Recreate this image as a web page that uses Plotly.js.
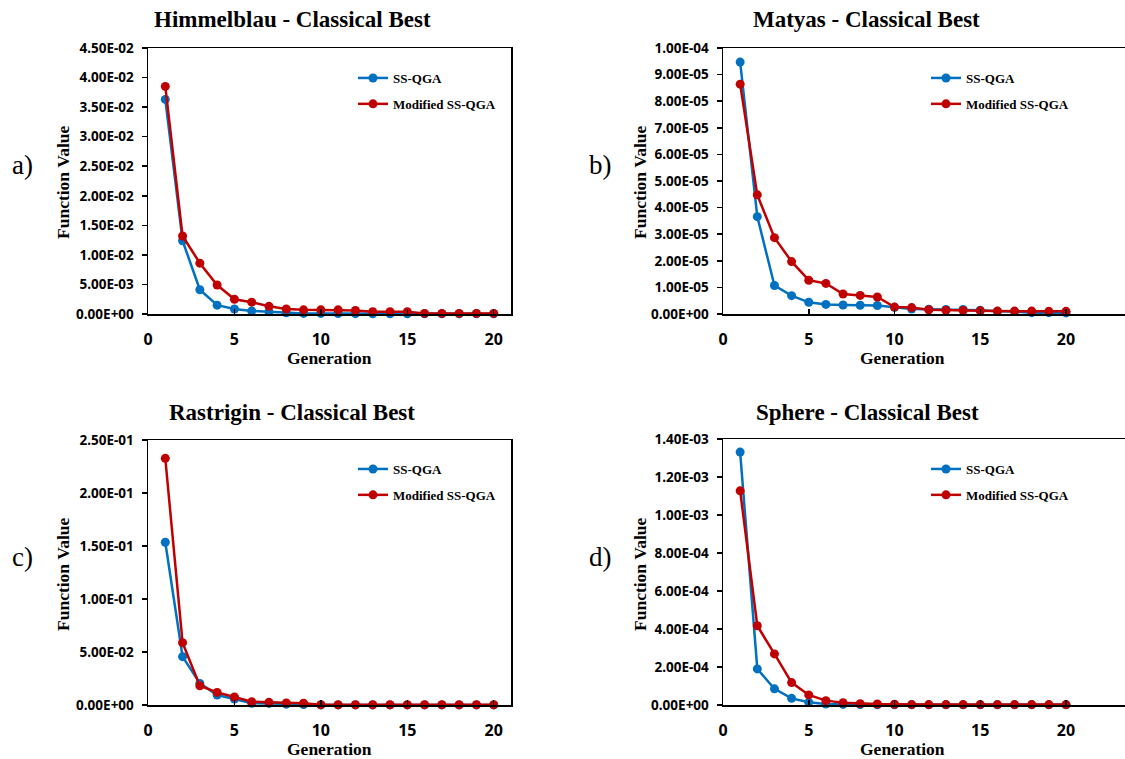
<!DOCTYPE html>
<html>
<head>
<meta charset="utf-8">
<script src="https://cdn.plot.ly/plotly-3.0.1.min.js"></script>
<style>html,body{margin:0;padding:0;background:#fff;}#chart{width:1125px;height:759px;}</style>
</head>
<body>
<div id="chart"></div>
<script>
// ---------- data ----------
var generation = [1,2,3,4,5,6,7,8,9,10,11,12,13,14,15,16,17,18,19,20];

var himmelSS  = [0.0363,0.0124,0.0041,0.0015,0.00085,0.0005,0.0004,0.0002,0.0001,0.0001,0.00008,0.00006,0.00005,0.00005,0.00005,0.00003,0.00003,0.00003,0.00003,0.00003];
var himmelMod = [0.0385,0.0132,0.0086,0.0049,0.0025,0.0020,0.0013,0.00085,0.0007,0.0007,0.0007,0.0006,0.0004,0.0004,0.0004,0.0001,0.0001,0.0001,0.0001,0.0001];

var matyasSS  = [9.47e-5,3.66e-5,1.07e-5,6.9e-6,4.4e-6,3.6e-6,3.4e-6,3.3e-6,3.2e-6,2.5e-6,1.9e-6,1.8e-6,1.7e-6,1.7e-6,1.4e-6,1.0e-6,0.9e-6,0.5e-6,0.5e-6,0.4e-6];
var matyasMod = [8.64e-5,4.48e-5,2.87e-5,1.97e-5,1.27e-5,1.15e-5,7.5e-6,7.0e-6,6.4e-6,2.6e-6,2.4e-6,1.6e-6,1.4e-6,1.3e-6,1.2e-6,1.1e-6,1.1e-6,1.1e-6,1.0e-6,1.0e-6];

var rastSS  = [0.1535,0.0456,0.0204,0.0094,0.0057,0.0016,0.0015,0.0008,0.0005,0.0001,0.0001,0.0001,0.0001,0.0001,0.0001,0.0001,0.0001,0.0001,0.0001,0.0001];
var rastMod = [0.2327,0.0588,0.0182,0.0119,0.0075,0.0031,0.0025,0.0019,0.0016,0.0002,0.0002,0.0002,0.0002,0.0002,0.0002,0.0002,0.0002,0.0002,0.0002,0.0002];

var sphereSS  = [1.331e-3,1.90e-4,8.5e-5,3.5e-5,1.4e-5,5e-6,3e-6,2e-6,1e-6,1e-6,1e-6,1e-6,1e-6,1e-6,1e-6,1e-6,1e-6,1e-6,1e-6,1e-6];
var sphereMod = [1.127e-3,4.17e-4,2.69e-4,1.18e-4,5.3e-5,2.3e-5,1.2e-5,7e-6,5e-6,4e-6,2e-6,2e-6,2e-6,2e-6,2e-6,2e-6,2e-6,2e-6,2e-6,2e-6];

var xTickVals = [0,5,10,15,20];
var xTickText = ["0","5","10","15","20"];

var himmelTickVals = [0,0.005,0.01,0.015,0.02,0.025,0.03,0.035,0.04,0.045];
var himmelTickText = ["0.00E+00","5.00E-03","1.00E-02","1.50E-02","2.00E-02","2.50E-02","3.00E-02","3.50E-02","4.00E-02","4.50E-02"];
var matyasTickVals = [0,1e-5,2e-5,3e-5,4e-5,5e-5,6e-5,7e-5,8e-5,9e-5,1e-4];
var matyasTickText = ["0.00E+00","1.00E-05","2.00E-05","3.00E-05","4.00E-05","5.00E-05","6.00E-05","7.00E-05","8.00E-05","9.00E-05","1.00E-04"];
var rastTickVals = [0,0.05,0.1,0.15,0.2,0.25];
var rastTickText = ["0.00E+00","5.00E-02","1.00E-01","1.50E-01","2.00E-01","2.50E-01"];
var sphereTickVals = [0,2e-4,4e-4,6e-4,8e-4,1e-3,1.2e-3,1.4e-3];
var sphereTickText = ["0.00E+00","2.00E-04","4.00E-04","6.00E-04","8.00E-04","1.00E-03","1.20E-03","1.40E-03"];

var seriesNames = ["SS-QGA","Modified SS-QGA"];
var panelTitles = ["Himmelblau - Classical Best","Matyas - Classical Best","Rastrigin - Classical Best","Sphere - Classical Best"];
var panelLabels = ["a)","b)","c)","d)"];

// ---------- layout helpers ----------
var W = 1125, H = 759;
function px(x){ return x / W; }
function py(y){ return 1 - y / H; }

var BLUE = "#0070C0", RED = "#C00000";
var serifBold = {family: "Liberation Serif, Times New Roman, serif", weight: "bold", color: "#000"};
var sansBold = {family: "Noto Sans, Arial, sans-serif", weight: "bold", color: "#000"};

var panels = [
  {ss: himmelSS, mod: himmelMod, tv: himmelTickVals, tt: himmelTickText, ymax: 0.045, x0: 148, x1: 511, xmax: 21, y0: 48, y1: 314},
  {ss: matyasSS, mod: matyasMod, tv: matyasTickVals, tt: matyasTickText, ymax: 1e-4, x0: 723, x1: 1125, xmax: 23.44, y0: 48, y1: 314},
  {ss: rastSS, mod: rastMod, tv: rastTickVals, tt: rastTickText, ymax: 0.25, x0: 148, x1: 511, xmax: 21, y0: 440, y1: 705},
  {ss: sphereSS, mod: sphereMod, tv: sphereTickVals, tt: sphereTickText, ymax: 1.4e-3, x0: 723, x1: 1125, xmax: 23.44, y0: 439, y1: 705}
];

var titlePos = [[292,20],[866,20],[292,412],[867,412]];
var labelPos = [[22,165],[600,165],[22,557],[600,557]];
var genPos = [[329,358],[902,358],[329,749],[902,749]];
var fvPos = [[63,182],[640,182],[63,574],[640,574]];
var legendPos = [[353,91],[926,91],[353,482],[926,482]];

var data = [];
var layout = {
  width: W, height: H,
  margin: {l: 0, r: 0, t: 0, b: 0},
  paper_bgcolor: "#fff", plot_bgcolor: "#fff",
  showlegend: true,
  annotations: []
};

panels.forEach(function(p, i){
  var n = i + 1;
  var xa = "x" + (n === 1 ? "" : n), ya = "y" + (n === 1 ? "" : n);
  var leg = "legend" + (n === 1 ? "" : n);
  [p.ss, p.mod].forEach(function(vals, k){
    data.push({
      type: "scatter", mode: "lines+markers",
      x: generation, y: vals,
      xaxis: xa, yaxis: ya,
      name: seriesNames[k],
      legend: leg, legendgroup: "g" + n + "_" + k,
      line: {color: k === 0 ? BLUE : RED, width: 2.5},
      marker: {color: k === 0 ? BLUE : RED, size: 9},
      cliponaxis: false
    });
  });
  var axLine = {showline: true, linecolor: "#000", linewidth: 1.5, mirror: true, showgrid: false, zeroline: false, fixedrange: true};
  layout["xaxis" + (n === 1 ? "" : n)] = Object.assign({}, axLine, {
    domain: [px(p.x0), px(p.x1)], range: [0, p.xmax], anchor: ya,
    tickmode: "array", tickvals: xTickVals, ticktext: xTickText,
    ticks: "inside", ticklen: 5, tickwidth: 1.5, tickcolor: "#000",
    ticklabelstandoff: 10,
    tickfont: Object.assign({size: 16}, sansBold)
  });
  layout["yaxis" + (n === 1 ? "" : n)] = Object.assign({}, axLine, {
    domain: [py(p.y1), py(p.y0)], range: [0, p.ymax], anchor: xa,
    tickmode: "array", tickvals: p.tv, ticktext: p.tt,
    ticks: "outside", ticklen: 5, tickwidth: 1.5, tickcolor: "#000",
    ticklabelstandoff: 5,
    tickfont: Object.assign({size: 13.5}, sansBold)
  });
  layout[leg] = {
    x: px(legendPos[i][0]), y: py(legendPos[i][1]), xanchor: "left", yanchor: "middle",
    xref: "paper", yref: "paper",
    bgcolor: "rgba(0,0,0,0)", borderwidth: 0,
    font: Object.assign({size: 13}, serifBold),
    tracegroupgap: 6, itemwidth: 30
  };
  layout.annotations.push({
    text: panelTitles[i], xref: "paper", yref: "paper", showarrow: false,
    x: px(titlePos[i][0]), y: py(titlePos[i][1]), xanchor: "center", yanchor: "middle",
    font: Object.assign({size: 23}, serifBold)
  });
  layout.annotations.push({
    text: panelLabels[i], xref: "paper", yref: "paper", showarrow: false,
    x: px(labelPos[i][0]), y: py(labelPos[i][1]), xanchor: "center", yanchor: "middle",
    font: {family: "Liberation Serif, Times New Roman, serif", size: 27, color: "#000"}
  });
  layout.annotations.push({
    text: "Generation", xref: "paper", yref: "paper", showarrow: false,
    x: px(genPos[i][0]), y: py(genPos[i][1]), xanchor: "center", yanchor: "middle",
    font: Object.assign({size: 17.5}, serifBold)
  });
  layout.annotations.push({
    text: "Function Value", xref: "paper", yref: "paper", showarrow: false, textangle: -90,
    x: px(fvPos[i][0]), y: py(fvPos[i][1]), xanchor: "center", yanchor: "middle",
    font: Object.assign({size: 17.5}, serifBold)
  });
});

Plotly.newPlot("chart", data, layout, {displayModeBar: false, staticPlot: true});
</script>
</body>
</html>
